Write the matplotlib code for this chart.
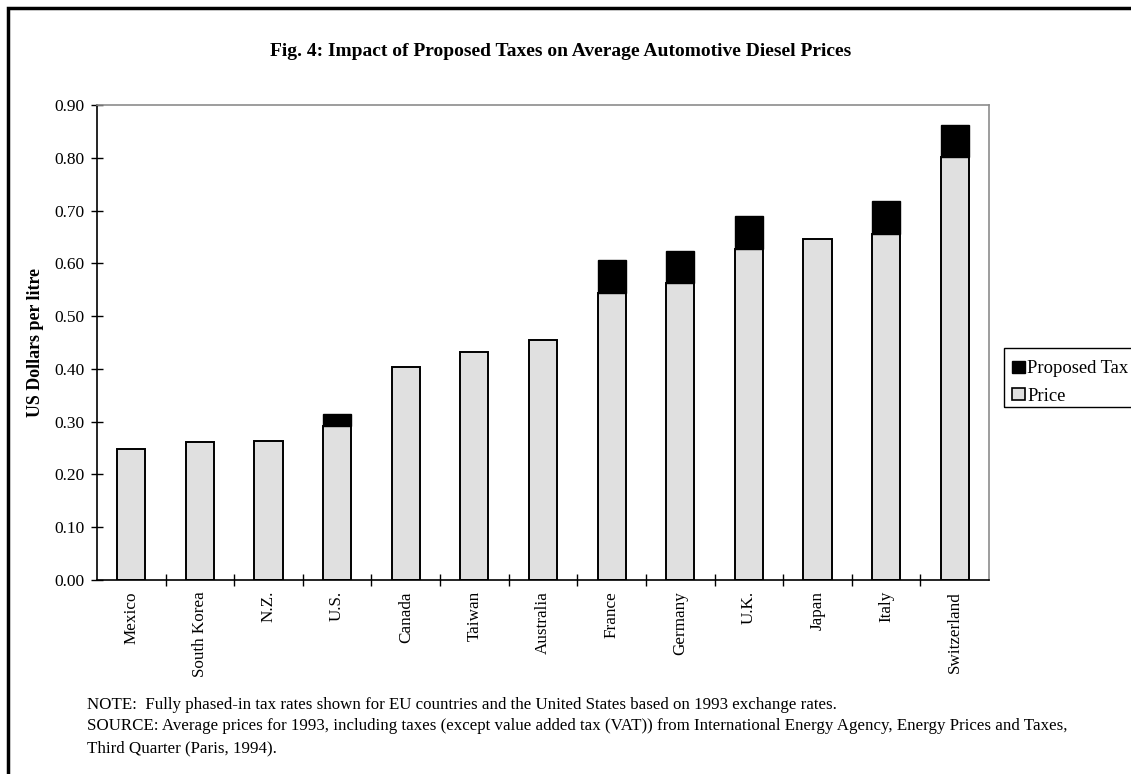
import numpy as np
import matplotlib.pyplot as plt
from matplotlib.patches import Rectangle, Patch

# Diesel prices in US$ per litre (1993) and the proposed tax added on top
paises = ['Mexico', 'South Korea', 'N.Z.', 'U.S.', 'Canada', 'Taiwan', 'Australia',
          'France', 'Germany', 'U.K.', 'Japan', 'Italy', 'Switzerland']
precio = [0.248, 0.262, 0.264, 0.292, 0.403, 0.432, 0.455,
          0.543, 0.562, 0.627, 0.646, 0.656, 0.802]
impuesto = [0.0, 0.0, 0.0, 0.023, 0.0, 0.0, 0.0,
            0.064, 0.062, 0.063, 0.0, 0.063, 0.061]
marcas_y = [0.0, 0.1, 0.2, 0.3, 0.4, 0.5, 0.6, 0.7, 0.8, 0.9]

plt.rcParams['font.family'] = ['Liberation Serif', 'DejaVu Serif']

W, H = 1131, 774
fig = plt.figure(figsize=(W / 100, H / 100), dpi=100)
ax = fig.add_axes([97 / W, 1 - 580 / H, (989 - 97) / W, (580 - 105) / H])

x = np.arange(len(paises))
ancho = 0.41
ax.bar(x, precio, ancho, color='#e0e0e0', edgecolor='black', linewidth=1.4, label='Price')
con_tax = [i for i, t in enumerate(impuesto) if t > 0]
ax.bar([x[i] for i in con_tax], [impuesto[i] for i in con_tax], ancho,
       bottom=[precio[i] for i in con_tax], color='black', edgecolor='black',
       linewidth=1.0, label='Proposed Tax')

ax.set_xlim(-0.5, len(paises) - 0.5)
ax.set_ylim(0, 0.9)
ax.set_yticks(marcas_y)
ax.set_yticklabels([f'{v:.2f}' for v in marcas_y], fontsize=12.5)
ax.set_xticks(x)
ax.set_xticklabels(paises, rotation=90, fontsize=12.3, va='top')
ax.tick_params(axis='x', length=0, pad=8)
ax.set_xticks(np.arange(0.5, len(paises) - 0.5, 1), minor=True)
ax.tick_params(axis='x', which='minor', direction='inout', length=8, width=1)
ax.tick_params(axis='y', direction='inout', length=8, width=1, pad=5)

for lado in ['top', 'right']:
    ax.spines[lado].set_color('#8c8c8c')
    ax.spines[lado].set_linewidth(1.2)
for lado in ['left', 'bottom']:
    ax.spines[lado].set_color('black')
    ax.spines[lado].set_linewidth(1.2)

ax.set_ylabel('US Dollars per litre', fontsize=12.9, fontweight='bold')
ax.yaxis.set_label_coords(-0.059, 0.5)

fig.text(561 / W, 1 - 52 / H,
         'Fig. 4: Impact of Proposed Taxes on Average Automotive Diesel Prices',
         ha='center', va='center', fontsize=14, fontweight='bold')

# legend with the tax entry first; its box runs off the right edge
handles = [Patch(facecolor='black', edgecolor='black'),
           Patch(facecolor='#e0e0e0', edgecolor='black', linewidth=1.2)]
leg = fig.legend(handles, ['Proposed Tax', 'Price'], loc='upper left',
                 bbox_to_anchor=(1005 / W, 1 - 353 / H), fontsize=13.4,
                 frameon=False, handlelength=0.65, handleheight=0.65,
                 handletextpad=0.15, borderpad=0.4, labelspacing=0.55, borderaxespad=0)
fig.patches.append(Rectangle((1004 / W, 1 - 407 / H), 0.2, 59 / H,
                             transform=fig.transFigure, fill=False,
                             edgecolor='black', linewidth=1.0))

notas = ['NOTE:  Fully phased-in tax rates shown for EU countries and the United States based on 1993 exchange rates.',
         'SOURCE: Average prices for 1993, including taxes (except value added tax (VAT)) from International Energy Agency, Energy Prices and Taxes,',
         'Third Quarter (Paris, 1994).']
for k, linea in enumerate(notas):
    fig.text(87 / W, 1 - (705 + k * 21.5) / H, linea, ha='left', va='center', fontsize=12.2)

# outer frame of the figure
fig.patches.append(Rectangle((8 / W, -0.05), 1.2, 1 - 8 / H + 0.05,
                             transform=fig.transFigure, fill=False,
                             edgecolor='black', linewidth=2.5))

fig.savefig('out.png', dpi=100)
